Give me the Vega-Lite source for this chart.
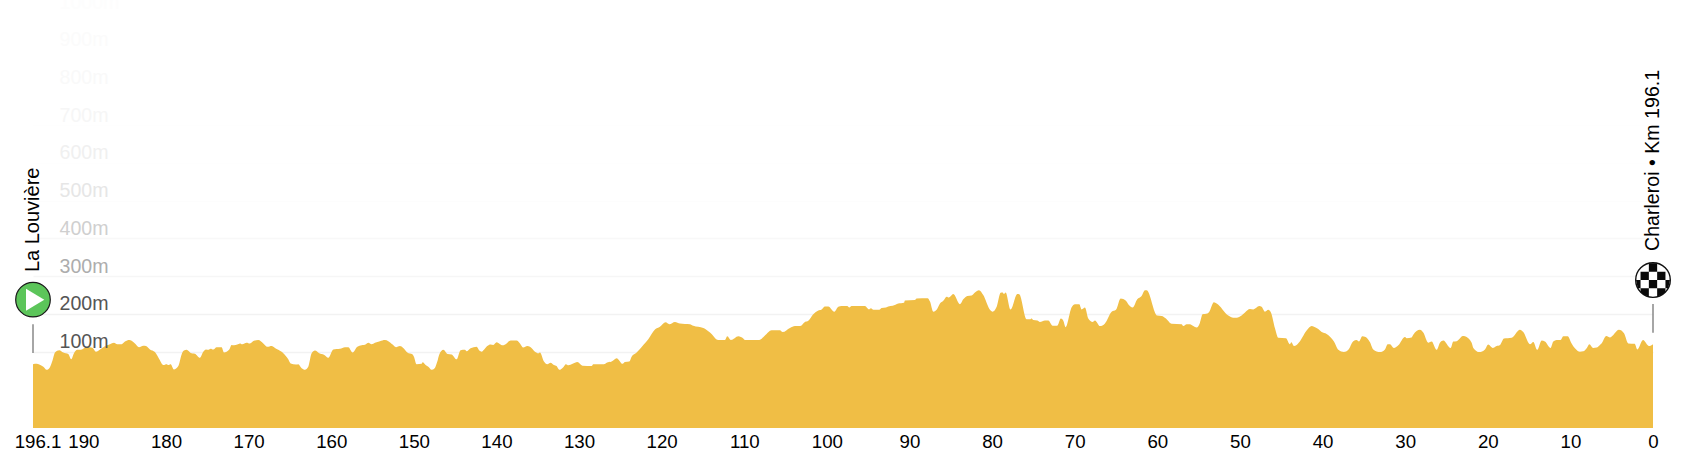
{"$schema":"https://vega.github.io/schema/vega-lite/v6.json","width":1620,"height":416,"autosize":"none","padding":{"left":33,"top":12,"right":31,"bottom":32},"background":"white","config":{"view":{"stroke":null},"font":"Liberation Sans"},
"datasets":{"profile":[{"km":196.1,"elev":67},{"km":195.66,"elev":68},{"km":195.34,"elev":66},{"km":194.85,"elev":60},{"km":194.45,"elev":52},{"km":194.05,"elev":59},{"km":193.72,"elev":78},{"km":193.44,"elev":98},{"km":192.92,"elev":104},{"km":192.43,"elev":98},{"km":191.83,"elev":94},{"km":191.47,"elev":80},{"km":191.14,"elev":96},{"km":190.74,"elev":105},{"km":190.29,"elev":105},{"km":189.93,"elev":109},{"km":189.69,"elev":111},{"km":189.21,"elev":112},{"km":188.88,"elev":110},{"km":188.48,"elev":100},{"km":187.99,"elev":106},{"km":187.27,"elev":116},{"km":186.78,"elev":120},{"km":186.3,"elev":124},{"km":185.9,"elev":120},{"km":185.37,"elev":120},{"km":184.97,"elev":127},{"km":184.44,"elev":131},{"km":184.16,"elev":129},{"km":183.76,"elev":122},{"km":183.27,"elev":112},{"km":182.75,"elev":116},{"km":182.43,"elev":115},{"km":181.94,"elev":106},{"km":181.34,"elev":99},{"km":180.81,"elev":80},{"km":180.33,"elev":65},{"km":179.92,"elev":67},{"km":179.72,"elev":65},{"km":179.44,"elev":67},{"km":179.04,"elev":53},{"km":178.51,"elev":62},{"km":178.11,"elev":93},{"km":177.83,"elev":103},{"km":177.5,"elev":105},{"km":177.02,"elev":97},{"km":176.5,"elev":95},{"km":175.89,"elev":84},{"km":175.49,"elev":100},{"km":175.16,"elev":106},{"km":174.88,"elev":105},{"km":174.6,"elev":108},{"km":174.28,"elev":106},{"km":173.87,"elev":112},{"km":173.27,"elev":112},{"km":172.98,"elev":98},{"km":172.34,"elev":106},{"km":172.06,"elev":118},{"km":171.77,"elev":117},{"km":171.37,"elev":119},{"km":171.05,"elev":122},{"km":170.77,"elev":120},{"km":170.24,"elev":124},{"km":169.84,"elev":122},{"km":169.35,"elev":129},{"km":168.83,"elev":131},{"km":168.22,"elev":122},{"km":167.74,"elev":113},{"km":167.21,"elev":115},{"km":166.81,"elev":110},{"km":166.41,"elev":105},{"km":165.8,"elev":96},{"km":165.2,"elev":80},{"km":164.91,"elev":69},{"km":164.27,"elev":66},{"km":163.99,"elev":67},{"km":163.58,"elev":56},{"km":163.18,"elev":52},{"km":162.78,"elev":60},{"km":162.37,"elev":96},{"km":161.97,"elev":103},{"km":161.45,"elev":96},{"km":160.88,"elev":92},{"km":160.35,"elev":84},{"km":159.75,"elev":106},{"km":159.35,"elev":107},{"km":158.94,"elev":108},{"km":158.34,"elev":112},{"km":157.93,"elev":112},{"km":157.41,"elev":98},{"km":156.84,"elev":113},{"km":156.32,"elev":117},{"km":155.8,"elev":120},{"km":155.51,"elev":124},{"km":155.11,"elev":120},{"km":154.71,"elev":124},{"km":154.1,"elev":128},{"km":153.5,"elev":131},{"km":153.09,"elev":128},{"km":152.57,"elev":119},{"km":152.16,"elev":112},{"km":151.68,"elev":115},{"km":151.28,"elev":110},{"km":150.79,"elev":98},{"km":150.15,"elev":93},{"km":149.99,"elev":87},{"km":149.66,"elev":67},{"km":149.06,"elev":68},{"km":148.94,"elev":72},{"km":148.53,"elev":64},{"km":148.25,"elev":60},{"km":147.85,"elev":52},{"km":147.48,"elev":56},{"km":147.16,"elev":74},{"km":146.92,"elev":93},{"km":146.43,"elev":105},{"km":145.91,"elev":94},{"km":145.43,"elev":93},{"km":144.82,"elev":80},{"km":144.34,"elev":104},{"km":143.81,"elev":105},{"km":143.61,"elev":101},{"km":143.13,"elev":109},{"km":142.4,"elev":113},{"km":142.08,"elev":103},{"km":141.79,"elev":100},{"km":141.51,"elev":105},{"km":141.11,"elev":115},{"km":140.71,"elev":119},{"km":140.38,"elev":118},{"km":139.98,"elev":125},{"km":139.57,"elev":120},{"km":139.25,"elev":117},{"km":138.77,"elev":122},{"km":138.28,"elev":130},{"km":137.56,"elev":130},{"km":137.15,"elev":122},{"km":136.75,"elev":111},{"km":136.27,"elev":115},{"km":135.94,"elev":113},{"km":135.34,"elev":100},{"km":134.93,"elev":96},{"km":134.73,"elev":98},{"km":134.25,"elev":74},{"km":133.85,"elev":67},{"km":133.44,"elev":71},{"km":133.04,"elev":65},{"km":132.72,"elev":62},{"km":132.39,"elev":52},{"km":131.91,"elev":59},{"km":131.59,"elev":67},{"km":131.3,"elev":64},{"km":130.78,"elev":68},{"km":130.21,"elev":73},{"km":129.57,"elev":63},{"km":128.48,"elev":62},{"km":128.28,"elev":67},{"km":126.99,"elev":67},{"km":126.66,"elev":71},{"km":126.06,"elev":74},{"km":125.45,"elev":83},{"km":124.73,"elev":68},{"km":124.44,"elev":73},{"km":123.92,"elev":74},{"km":123.64,"elev":87},{"km":123.03,"elev":98},{"km":122.22,"elev":118},{"km":121.62,"elev":133},{"km":120.81,"elev":159},{"km":120.21,"elev":166},{"km":119.52,"elev":178},{"km":119.08,"elev":173},{"km":118.39,"elev":179},{"km":117.79,"elev":175},{"km":116.58,"elev":173},{"km":116.17,"elev":169},{"km":115.57,"elev":166},{"km":114.96,"elev":163},{"km":114.15,"elev":151},{"km":113.15,"elev":131},{"km":112.34,"elev":131},{"km":112.06,"elev":141},{"km":111.61,"elev":131},{"km":110.72,"elev":141},{"km":110.12,"elev":135},{"km":109.92,"elev":131},{"km":108.18,"elev":131},{"km":107.5,"elev":143},{"km":106.69,"elev":157},{"km":105.68,"elev":157},{"km":105.36,"elev":152},{"km":104.47,"elev":163},{"km":103.86,"elev":168},{"km":103.26,"elev":168},{"km":102.65,"elev":179},{"km":102.25,"elev":182},{"km":101.65,"elev":199},{"km":101.04,"elev":209},{"km":100.64,"elev":212},{"km":100.23,"elev":220},{"km":99.83,"elev":220},{"km":99.1,"elev":206},{"km":98.62,"elev":219},{"km":98.22,"elev":221},{"km":97.53,"elev":221},{"km":97.29,"elev":217},{"km":97.01,"elev":221},{"km":95.39,"elev":221},{"km":94.91,"elev":212},{"km":94.67,"elev":215},{"km":94.38,"elev":211},{"km":93.66,"elev":211},{"km":93.37,"elev":216},{"km":92.85,"elev":217},{"km":92.57,"elev":220},{"km":92.04,"elev":222},{"km":91.36,"elev":228},{"km":90.67,"elev":230},{"km":90.55,"elev":236},{"km":89.34,"elev":237},{"km":89.14,"elev":241},{"km":87.81,"elev":242},{"km":87.52,"elev":233},{"km":87.12,"elev":206},{"km":86.72,"elev":211},{"km":86.31,"elev":228},{"km":85.91,"elev":235},{"km":85.51,"elev":246},{"km":85.22,"elev":244},{"km":84.7,"elev":253},{"km":83.89,"elev":226},{"km":83.49,"elev":239},{"km":83.0,"elev":248},{"km":82.48,"elev":249},{"km":82.08,"elev":257},{"km":81.59,"elev":263},{"km":81.07,"elev":250},{"km":80.26,"elev":211},{"km":79.94,"elev":206},{"km":79.45,"elev":219},{"km":78.97,"elev":256},{"km":78.73,"elev":257},{"km":78.57,"elev":253},{"km":78.36,"elev":257},{"km":77.76,"elev":212},{"km":76.95,"elev":253},{"km":76.71,"elev":252},{"km":75.82,"elev":186},{"km":75.42,"elev":186},{"km":75.22,"elev":188},{"km":75.01,"elev":184},{"km":74.53,"elev":183},{"km":74.21,"elev":179},{"km":73.6,"elev":183},{"km":73.2,"elev":183},{"km":72.67,"elev":169},{"km":72.11,"elev":169},{"km":71.67,"elev":188},{"km":71.38,"elev":182},{"km":71.1,"elev":165},{"km":70.37,"elev":218},{"km":69.97,"elev":226},{"km":69.45,"elev":226},{"km":69.16,"elev":212},{"km":68.76,"elev":217},{"km":68.36,"elev":188},{"km":67.83,"elev":179},{"km":67.55,"elev":183},{"km":66.94,"elev":168},{"km":66.34,"elev":175},{"km":65.53,"elev":206},{"km":65.01,"elev":211},{"km":64.44,"elev":241},{"km":63.8,"elev":235},{"km":63.52,"elev":226},{"km":62.99,"elev":217},{"km":62.43,"elev":239},{"km":61.9,"elev":248},{"km":61.5,"elev":263},{"km":61.3,"elev":263},{"km":60.01,"elev":196},{"km":59.48,"elev":195},{"km":58.96,"elev":188},{"km":58.27,"elev":174},{"km":57.06,"elev":173},{"km":56.86,"elev":168},{"km":56.45,"elev":173},{"km":56.05,"elev":173},{"km":55.65,"elev":168},{"km":55.24,"elev":164},{"km":54.84,"elev":177},{"km":54.52,"elev":199},{"km":53.95,"elev":201},{"km":53.71,"elev":206},{"km":53.15,"elev":231},{"km":52.82,"elev":228},{"km":51.41,"elev":196},{"km":50.8,"elev":190},{"km":50.4,"elev":190},{"km":49.8,"elev":196},{"km":49.39,"elev":204},{"km":48.79,"elev":213},{"km":48.38,"elev":212},{"km":47.66,"elev":221},{"km":47.38,"elev":219},{"km":46.97,"elev":206},{"km":46.57,"elev":211},{"km":46.25,"elev":204},{"km":45.76,"elev":162},{"km":45.36,"elev":137},{"km":44.43,"elev":136},{"km":43.95,"elev":120},{"km":43.78,"elev":125},{"km":43.46,"elev":115},{"km":43.14,"elev":118},{"km":42.73,"elev":128},{"km":41.93,"elev":156},{"km":41.32,"elev":168},{"km":41.04,"elev":166},{"km":40.52,"elev":160},{"km":40.11,"elev":152},{"km":39.51,"elev":147},{"km":38.62,"elev":127},{"km":38.09,"elev":105},{"km":37.41,"elev":99},{"km":36.88,"elev":105},{"km":36.28,"elev":128},{"km":35.88,"elev":131},{"km":35.59,"elev":127},{"km":35.19,"elev":141},{"km":34.79,"elev":139},{"km":34.26,"elev":125},{"km":33.86,"elev":106},{"km":33.05,"elev":99},{"km":32.45,"elev":106},{"km":32.12,"elev":120},{"km":31.84,"elev":120},{"km":31.36,"elev":110},{"km":30.83,"elev":117},{"km":30.02,"elev":139},{"km":29.82,"elev":136},{"km":29.22,"elev":138},{"km":29.02,"elev":145},{"km":28.21,"elev":158},{"km":27.81,"elev":151},{"km":27.2,"elev":124},{"km":26.8,"elev":127},{"km":26.19,"elev":105},{"km":25.79,"elev":124},{"km":25.38,"elev":130},{"km":24.5,"elev":110},{"km":24.17,"elev":127},{"km":23.77,"elev":128},{"km":23.57,"elev":131},{"km":23.04,"elev":142},{"km":22.76,"elev":141},{"km":21.95,"elev":124},{"km":21.75,"elev":110},{"km":21.03,"elev":99},{"km":20.34,"elev":106},{"km":19.94,"elev":119},{"km":19.41,"elev":110},{"km":18.93,"elev":115},{"km":18.52,"elev":118},{"km":18.04,"elev":135},{"km":17.11,"elev":137},{"km":16.1,"elev":158},{"km":15.7,"elev":152},{"km":14.89,"elev":120},{"km":14.49,"elev":126},{"km":14.01,"elev":105},{"km":13.48,"elev":130},{"km":13.08,"elev":127},{"km":12.39,"elev":110},{"km":12.07,"elev":127},{"km":11.67,"elev":131},{"km":11.18,"elev":131},{"km":10.86,"elev":141},{"km":10.33,"elev":141},{"km":9.85,"elev":122},{"km":9.45,"elev":109},{"km":8.84,"elev":100},{"km":8.44,"elev":101},{"km":8.03,"elev":109},{"km":7.71,"elev":120},{"km":7.23,"elev":110},{"km":6.82,"elev":111},{"km":6.42,"elev":118},{"km":6.26,"elev":121},{"km":5.65,"elev":142},{"km":5.2,"elev":138},{"km":4.12,"elev":158},{"km":3.51,"elev":149},{"km":2.99,"elev":122},{"km":2.22,"elev":121},{"km":1.9,"elev":106},{"km":1.21,"elev":131},{"km":0.48,"elev":115},{"km":0,"elev":120}],
"places":[{"km":196.1,"name":"La Louvière","kind":"start","stemTop":173,"stemBottom":97,"icon":238,"label":311},{"km":0,"name":"Charleroi • Km 196.1","kind":"finish","stemTop":226.5,"stemBottom":150,"icon":290,"label":367}]},
"resolve":{"axis":{"y":"independent","x":"independent"}},
"layer":[
{"data":{"name":"profile"},"mark":{"type":"area","color":"#f0be45","interpolate":"monotone","clip":false},"encoding":{"x":{"field":"km","type":"quantitative","scale":{"domain":[196.1,0],"nice":false,"zero":false},"axis":{"values":[196.1,190,180,170,160,150,140,130,120,110,100,90,80,70,60,50,40,30,20,10,0],"labelExpr":"'' + datum.value","title":null,"grid":false,"ticks":false,"domain":false,"labelFontSize":18.7,"labelFont":"Liberation Sans","labelColor":"#000000","labelPadding":4,"labelOverlap":false,"labelFlush":false,"labelOffset":{"condition":{"test":"datum.value==196.1","value":4.5},"value":0}}},"y":{"field":"elev","type":"quantitative","scale":{"domain":[-102,1000],"nice":false,"zero":false},"axis":{"values":[100,200,300,400,500,600,700,800,900,1000],"title":null,"labels":false,"ticks":false,"domain":false,"grid":true,"gridWidth":1.5,"gridColor":{"condition":[{"test":"datum.value<=200","value":"#f2f2f2"},{"test":"datum.value==300","value":"#f6f6f6"},{"test":"datum.value==400","value":"#f8f8f8"},{"test":"datum.value==500","value":"#fdfdfd"},{"test":"datum.value<=700","value":"#fefefe"}],"value":"#ffffff"},"zindex":0}},"y2":{"datum":-102}}},
{"data":{"name":"places"},"mark":{"type":"rule","color":"#888888","strokeWidth":1.5},"encoding":{"x":{"field":"km","type":"quantitative","axis":null},"y":{"field":"stemTop","type":"quantitative","axis":{"values":[100,200,300,400,500,600,700,800,900,1000],"title":null,"grid":false,"ticks":false,"domain":false,"labelExpr":"datum.value + 'm'","orient":"left","labelAlign":"left","labelBaseline":"middle","labelPadding":-26,"labelOffset":-10,"labelFontSize":19.6,"labelFont":"Liberation Sans","labelOverlap":false,"labelFlush":false,"labelColor":{"condition":[{"test":"datum.value<=200","value":"#555555"},{"test":"datum.value==300","value":"#adadad"},{"test":"datum.value==400","value":"#cfcfcf"},{"test":"datum.value==500","value":"#e6e6e6"},{"test":"datum.value==600","value":"#f0f0f0"},{"test":"datum.value==700","value":"#f6f6f6"},{"test":"datum.value==800","value":"#f9f9f9"},{"test":"datum.value==900","value":"#fbfbfb"}],"value":"#fdfdfd"},"zindex":1}},"y2":{"field":"stemBottom"}}},
{"data":{"name":"places"},"transform":[{"filter":"datum.kind=='start'"}],"mark":{"type":"point","shape":"circle","filled":true,"fill":"#5cc55a","stroke":"#1a1a1a","strokeWidth":1.2,"opacity":1,"size":1197},"encoding":{"x":{"field":"km","type":"quantitative","axis":null},"y":{"field":"icon","type":"quantitative","axis":null}}},
{"data":{"name":"places"},"transform":[{"filter":"datum.kind=='start'"}],"mark":{"type":"point","shape":"M-0.4,-0.63L0.646,0L-0.4,0.63Z","filled":true,"fill":"#ffffff","stroke":null,"opacity":1,"size":1225},"encoding":{"x":{"field":"km","type":"quantitative","axis":null},"y":{"field":"icon","type":"quantitative","axis":null}}},
{"data":{"name":"places"},"transform":[{"filter":"datum.kind=='finish'"}],"mark":{"type":"point","shape":"circle","filled":true,"fill":"#ffffff","stroke":"#111111","strokeWidth":1.4,"opacity":1,"size":1197},"encoding":{"x":{"field":"km","type":"quantitative","axis":null},"y":{"field":"icon","type":"quantitative","axis":null}}},
{"data":{"name":"places"},"transform":[{"filter":"datum.kind=='finish'"}],"mark":{"type":"point","shape":"M-0.24,-0.97L0.24,-0.97L0.24,-0.48L-0.24,-0.48ZM-0.72,-0.48L-0.24,-0.48L-0.24,0L-0.72,0ZM0.24,-0.48L0.72,-0.48L0.72,0L0.24,0ZM-0.24,0L0.24,0L0.24,0.48L-0.24,0.48ZM-0.98,0L-0.72,0L-0.72,0.48L-0.88,0.48ZM0.72,0L0.98,0L0.88,0.48L0.72,0.48ZM-0.72,0.48L-0.24,0.48L-0.24,0.97L-0.5,0.86L-0.72,0.69ZM0.24,0.48L0.72,0.48L0.72,0.69L0.5,0.86L0.24,0.97Z","filled":true,"fill":"#0a0a0a","stroke":null,"opacity":1,"size":1197},"encoding":{"x":{"field":"km","type":"quantitative","axis":null},"y":{"field":"icon","type":"quantitative","axis":null}}},
{"data":{"name":"places"},"mark":{"type":"text","angle":270,"align":"left","baseline":"middle","font":"Liberation Sans","color":"#000000"},"encoding":{"x":{"field":"km","type":"quantitative","axis":null},"y":{"field":"label","type":"quantitative","axis":null},"text":{"field":"name"},"size":{"condition":{"test":"datum.kind=='finish'","value":19.6},"value":20}}}
]}
